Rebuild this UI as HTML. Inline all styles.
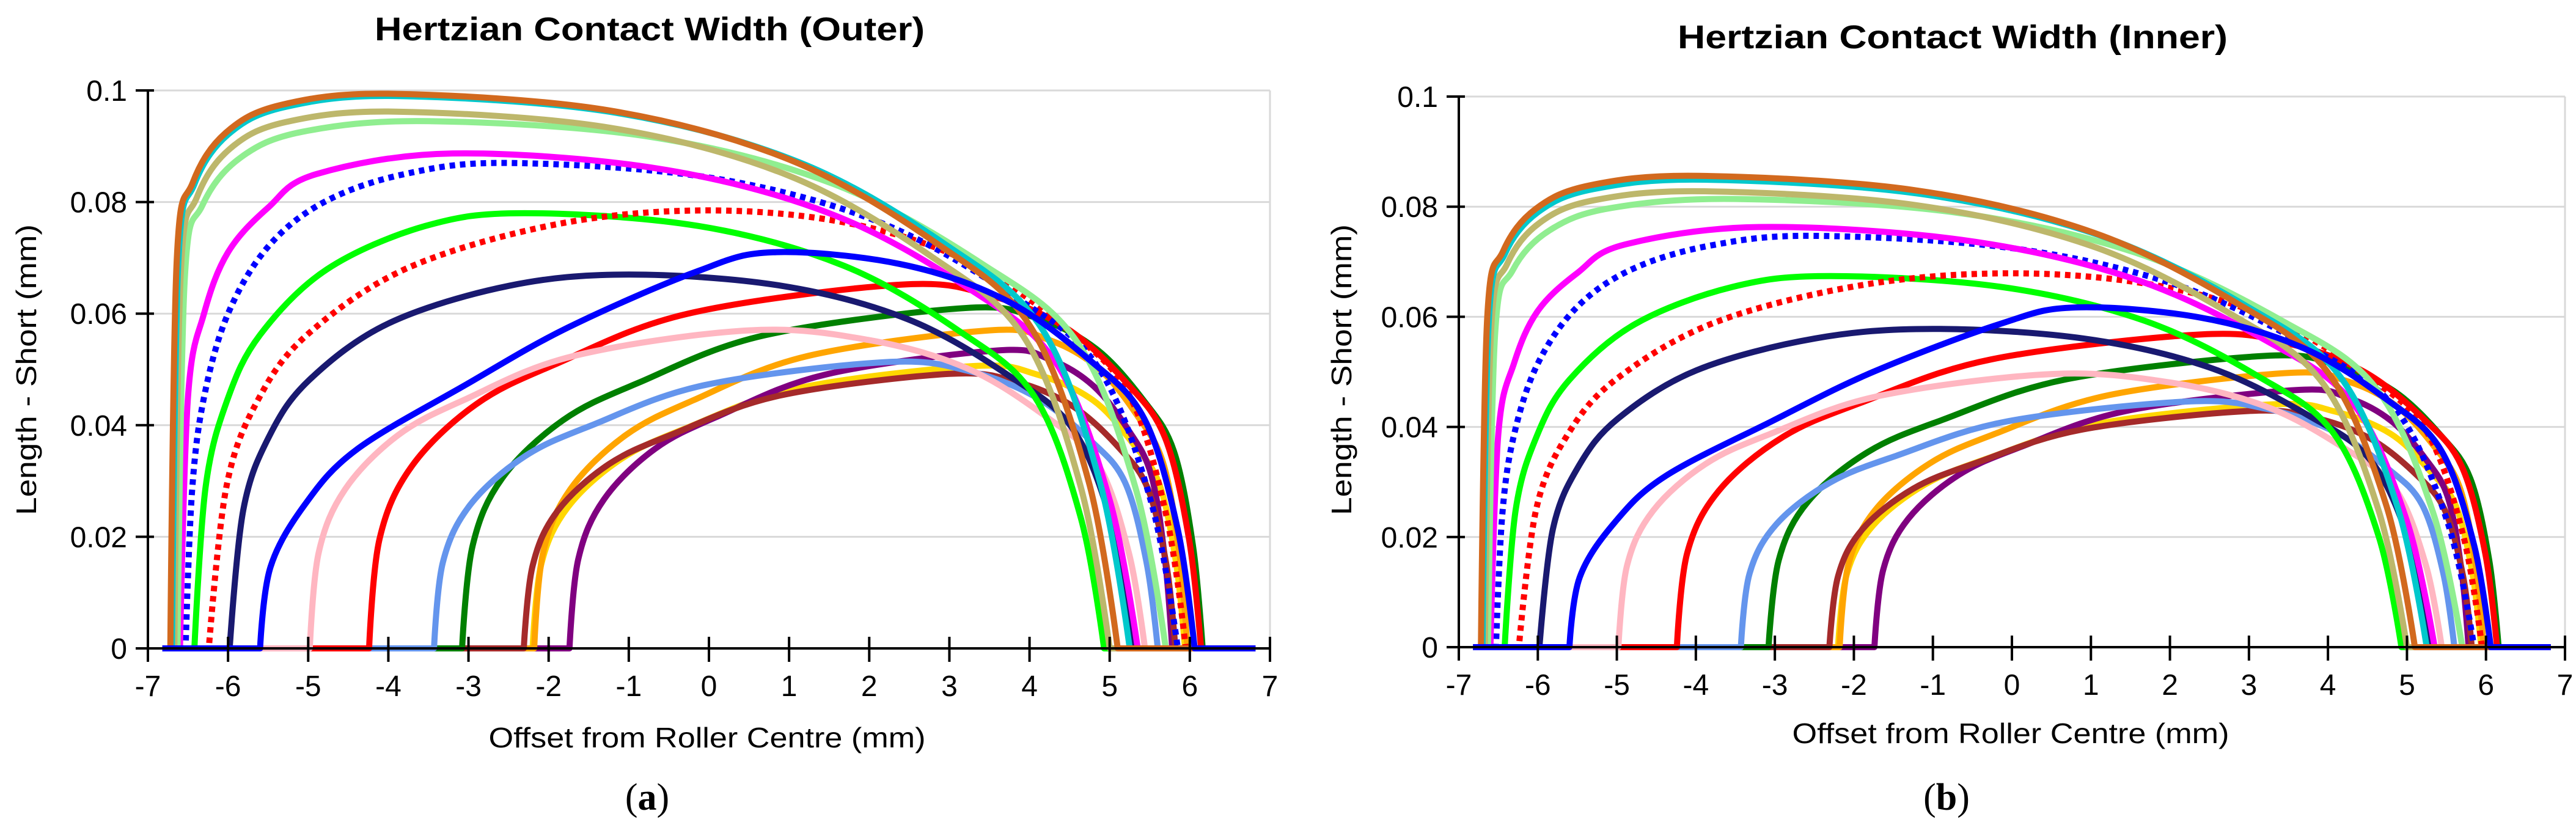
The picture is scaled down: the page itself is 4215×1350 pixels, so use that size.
<!DOCTYPE html>
<html><head><meta charset="utf-8"><style>
html,body{margin:0;padding:0;background:#fff;}
svg{display:block;}
text{font-family:"Liberation Sans",sans-serif;fill:#000;}
</style></head>
<body>
<svg id="fig" width="4215" height="1350" viewBox="0 0 4215 1350" xmlns="http://www.w3.org/2000/svg">
<rect x="0" y="0" width="4215" height="1350" fill="#fff"/>
<g id="panelA"></g>
<g id="panelB"></g>
<text x="1059" y="1325" font-size="62" text-anchor="middle" style="font-family:'Liberation Serif',serif">(<tspan font-weight="bold">a</tspan>)</text>
<text x="3185" y="1325" font-size="62" text-anchor="middle" style="font-family:'Liberation Serif',serif">(<tspan font-weight="bold">b</tspan>)</text>
</svg>
<script>
// ---- data (outer race), x in mm, y in mm ----
const xBrown=[-6.72,-6.64,-6.44,-6.03,-5.34,-3.96,-1.24,1.02,2.84,4.01,4.74,5.1];
const yBrown=[0,.0696,.0835,.0924,.0974,.0994,.0964,.0875,.0726,.0577,.0298,0];
const xCyan=[-6.7,-6.62,-6.42,-6.0,-5.3,-3.9,-1.16,1.13,2.96,4.15,4.88,5.25];
const yCyan=[0,.0693,.0832,.0921,.097,.099,.096,.0871,.0723,.0574,.0297,0];
const xKhaki=[-6.67,-6.59,-6.39,-5.98,-5.29,-3.9,-1.23,1.0,2.78,3.93,4.64,5.0];
const yKhaki=[0,.0673,.0808,.0895,.0943,.0962,.0933,.0847,.0702,.0558,.0289,0];
const xLightGreen=[-6.63,-6.54,-6.32,-5.85,-5.07,-3.5,-0.74,1.56,3.4,4.6,5.33,5.7];
const yLightGreen=[0,.0662,.0794,.0879,.0926,.0945,.0917,.0832,.069,.0548,.0284,0];
const xMagenta=[-6.6,-6.5,-6.3,-6.0,-5.5,-4.9,-3.2,-0.64,1.5,3.21,4.32,5.0,5.35];
const yMagenta=[0,.045,.06,.071,.079,.085,.0887,.086,.078,.0648,.0514,.0266,0];
const xBlueDot=[-6.53,-6.45,-6.3,-6.0,-5.5,-4.8,-3.8,-2.5,0,2.09,3.76,4.85,5.52,5.85];
const yBlueDot=[0,.028,.045,.06,.072,.08,.085,.087,.0844,.0766,.0635,.0505,.0261,0];
const xLime=[-6.42,-6.28,-6.01,-5.6,-4.77,-3.54,-2.3,-0.13,1.68,3.12,4.06,4.64,4.93];
const yLime=[0,.0289,.0445,.0562,.0679,.0757,.078,.0757,.0686,.0569,.0452,.0234,0];
const xRedDot=[-6.24,-6.02,-5.62,-4.99,-3.74,-1.87,0,1.78,3.27,4.46,5.24,5.71,5.95];
const yRedDot=[0,.029,.0447,.0565,.0683,.0761,.0785,.0761,.0691,.0573,.0455,.0236,0];
const xNavy=[-5.98,-5.81,-5.48,-4.98,-3.99,-2.49,-1,0.9,2.48,3.74,4.56,5.07,5.32];
const yNavy=[0,.0248,.0382,.0482,.0583,.065,.067,.065,.059,.0489,.0389,.0201,0];
const xBlue=[-5.6,-5.47,-5.02,-4.38,-3.04,-1.76,-0.16,0.8,2.38,3.69,4.74,5.43,5.85,6.06];
const yBlue=[0,.0146,.0262,.0358,.0472,.0575,.0675,.071,.0689,.0625,.0518,.0412,.0213,0];
const xPink=[-4.98,-4.87,-4.54,-3.88,-3.06,-1.69,0.5,1.98,3.22,4.2,4.85,5.24,5.44];
const yPink=[0,.0171,.0285,.0382,.0445,.0524,.057,.0553,.0502,.0416,.0331,.0171,0];
const xRed=[-4.24,-4.11,-3.71,-2.91,-1.92,-0.26,2.4,3.52,4.46,5.21,5.69,5.99,6.14];
const yRed=[0,.0196,.0326,.0437,.0509,.06,.0652,.0632,.0574,.0476,.0378,.0196,0];
const xCorn=[-3.43,-3.32,-2.98,-2.3,-1.46,-0.05,2.2,3.22,4.07,4.75,5.19,5.46,5.6];
const yCorn=[0,.0154,.0257,.0344,.04,.0472,.0513,.0498,.0451,.0374,.0298,.0154,0];
const xDGreen=[-3.08,-2.95,-2.58,-1.82,-0.88,0.69,3.2,4.09,4.83,5.42,5.8,6.04,6.16];
const yDGreen=[0,.0183,.0305,.0409,.0476,.0561,.061,.0592,.0537,.0445,.0354,.0183,0];
const xBrown2=[-2.31,-2.2,-1.89,-1.25,-0.45,0.88,3.0,3.85,4.55,5.12,5.48,5.71,5.82];
const yBrown2=[0,.0148,.0246,.033,.0384,.0453,.0492,.0477,.0433,.0359,.0285,.0148,0];
const xOrange=[-2.18,-2.07,-1.73,-1.04,-0.19,1.23,3.5,4.24,4.86,5.35,5.67,5.87,5.97];
const yOrange=[0,.0171,.0285,.0382,.0445,.0524,.057,.0553,.0502,.0416,.0331,.0171,0];
const xPurple=[-1.74,-1.63,-1.31,-0.67,0.13,1.46,3.6,4.25,4.8,5.24,5.52,5.69,5.78];
const yPurple=[0,.016,.0267,.0358,.0417,.0491,.0534,.0518,.047,.039,.031,.016,0];
const xGold=[-2.2,-2.09,-1.76,-1.1,-0.28,1.1,3.3,4.09,4.79,5.28,5.62,5.83,5.94];
const yGold=[0,.0152,.0253,.0339,.0395,.0466,.0506,.0491,.0445,.0369,.0294,.0152,0];
// inner race peak widths (mm), same series order as seriesNames
const innerPeaks=[.0441,.0467,.0498,.0429,.0529,.0446,.0568,.0496,.0578,.0674,.0679,.0747,.0763,.0814,.0828,.0849,.0856,.0617];
const seriesNames=['gold','purple','orange','brown','dark-green','cornflower','red','pink','navy','lime','red-dotted','blue-dotted','magenta','light-green','khaki','cyan','chocolate','blue'];
const xTicks=[-7,-6,-5,-4,-3,-2,-1,0,1,2,3,4,5,6,7];
const yTicks=[0,0.02,0.04,0.06,0.08,0.1];
const yTickLabels=['0','0.02','0.04','0.06','0.08','0.1'];
const xBase=[-6.82,6.82];

const seriesX=[xGold,xPurple,xOrange,xBrown2,xDGreen,xCorn,xRed,xPink,xNavy,xLime,xRedDot,xBlueDot,xMagenta,xLightGreen,xKhaki,xCyan,xBrown,xBlue];
const seriesY=[yGold,yPurple,yOrange,yBrown2,yDGreen,yCorn,yRed,yPink,yNavy,yLime,yRedDot,yBlueDot,yMagenta,yLightGreen,yKhaki,yCyan,yBrown,yBlue];
const colors=['#FFD700','#800080','#FFA500','#A52A2A','#008000','#6495ED','#FF0000','#FFB6C1','#191970','#00FF00','#FF0000','#0000FF','#FF00FF','#90EE90','#BDB76B','#00C8CC','#D2691E','#0000FF'];
const dotted=[false,false,false,false,false,false,false,false,false,false,true,true,false,false,false,false,false,false];

const NS='http://www.w3.org/2000/svg';
function mk(tag,attrs,parent){const e=document.createElementNS(NS,tag);for(const k in attrs)e.setAttribute(k,attrs[k]);parent.appendChild(e);return e;}

function drawPanel(g,cfg,scaleArr){
  const sx=v=>cfg.x0+(v+7)/14*(cfg.x1-cfg.x0);
  const sy=v=>cfg.y0+(v/0.1)*(cfg.y1-cfg.y0);
  yTicks.forEach((t,i)=>{ if(t===0)return;
    const l=mk('line',{x1:sx(-7),x2:sx(7),y1:sy(t),y2:sy(t),stroke:'#d9d9d9','stroke-width':3},g);
    
    
  });
  const rb=mk('line',{x1:sx(7),x2:sx(7),y1:sy(0.1),y2:sy(0),stroke:'#d9d9d9','stroke-width':3},g);
  
  
  const sg=mk('g',{},g);
  
  
  seriesX.forEach((xs,i)=>{
    const ys=seriesY[i];
    const k=scaleArr?scaleArr[i]/Math.max(...ys):1;
    const pts=xs.map((x,j)=>[sx(x),sy(ys[j]*k)]);
    const base=sy(0);
    let d='M'+sx(xBase[0])+','+base+' L'+pts[0][0]+','+pts[0][1];
    for(let j=0;j<pts.length-1;j++){
      const p0=pts[j-1]||pts[j],p1=pts[j],p2=pts[j+1],p3=pts[j+2]||pts[j+1];
      let c1=[p1[0]+(p2[0]-p0[0])/6,Math.min(base,p1[1]+(p2[1]-p0[1])/6)];
      let c2=[p2[0]-(p3[0]-p1[0])/6,Math.min(base,p2[1]-(p3[1]-p1[1])/6)];
      if(j===0){c1=[p1[0],p1[1]];}
      if(j===pts.length-2){c2=[p2[0],p2[1]];}
      d+=' C'+c1[0]+','+c1[1]+' '+c2[0]+','+c2[1]+' '+p2[0]+','+p2[1];
    }
    d+=' L'+sx(xBase[1])+','+base;
    const p=mk('path',{d:d,fill:'none',stroke:colors[i],'stroke-width':10,'stroke-linejoin':'round'},sg);
    if(dotted[i])p.setAttribute('stroke-dasharray','9 8');
    
    
  });
  const ya=mk('line',{x1:sx(-7),x2:sx(-7),y1:sy(0.1),y2:sy(0)+22,stroke:'#000','stroke-width':4},g);
  
  
  const xa=mk('line',{x1:sx(-7)-20,x2:sx(7),y1:sy(0),y2:sy(0),stroke:'#000','stroke-width':4},g);
  
  
  yTicks.forEach((t,i)=>{
    const tk=mk('line',{x1:sx(-7)-20,x2:sx(-7)+10,y1:sy(t),y2:sy(t),stroke:'#000','stroke-width':4},g);
    
    
    const tl=mk('text',{x:sx(-7)-34,y:sy(t)+17,'font-size':48,'text-anchor':'end'},g);
    tl.textContent=yTickLabels[i];
    
    
  });
  xTicks.forEach(t=>{
    const tk=mk('line',{x1:sx(t),x2:sx(t),y1:sy(0)-19,y2:sy(0)+22,stroke:'#000','stroke-width':4},g);
    
    
    const tl=mk('text',{x:sx(t),y:sy(0)+78,'font-size':48,'text-anchor':'middle'},g);
    tl.textContent=String(t);
    
    
  });
  const ti=mk('text',{x:cfg.tx,y:cfg.ty,'font-size':54,'font-weight':'bold','text-anchor':'middle',textLength:900,lengthAdjust:'spacingAndGlyphs'},g);
  ti.textContent=cfg.title;
  
  
  const xt=mk('text',{x:cfg.xtx,y:cfg.xty,'font-size':46,'text-anchor':'middle',textLength:715,lengthAdjust:'spacingAndGlyphs'},g);
  xt.textContent='Offset from Roller Centre (mm)';
  
  
  const yt=mk('text',{x:0,y:0,'font-size':46,'text-anchor':'middle',textLength:476,lengthAdjust:'spacingAndGlyphs',transform:'translate('+cfg.ytx+',605) rotate(-90)'},g);
  yt.textContent='Length - Short (mm)';
  
  
}

drawPanel(document.getElementById('panelA'),{x0:242,x1:2078,y0:1061,y1:148,tx:1063,ty:66,title:'Hertzian Contact Width (Outer)',xtx:1157,xty:1223,ytx:59},null);
drawPanel(document.getElementById('panelB'),{x0:2387,x1:4197,y0:1059,y1:158,tx:3195,ty:79,title:'Hertzian Contact Width (Inner)',xtx:3290,xty:1216,ytx:2211},innerPeaks);
</script>
</body></html>
